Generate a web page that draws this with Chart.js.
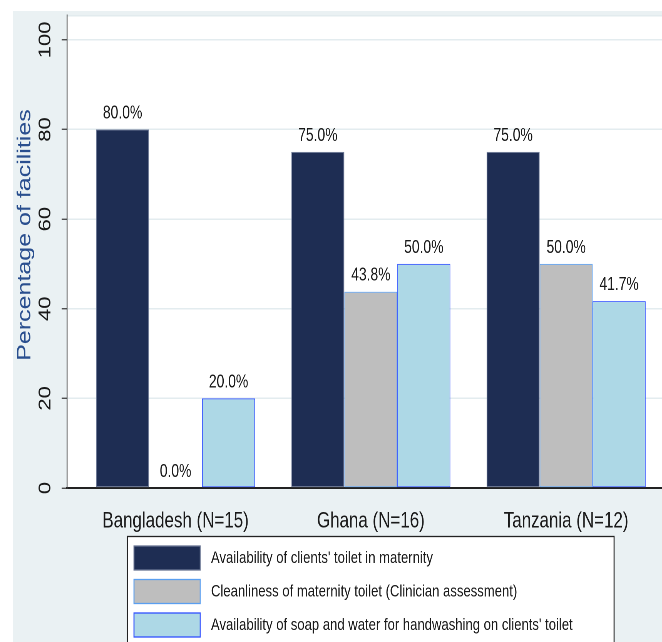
<!DOCTYPE html>
<html>
<head>
<meta charset="utf-8">
<script src="https://cdn.jsdelivr.net/npm/chart.js@4.4.1/dist/chart.umd.min.js"></script>
<style>
  html, body { margin: 0; padding: 0; background: #fff; overflow: hidden; }
  #wrap { width: 662px; height: 642px; overflow: hidden; }
  /* the original graph was squeezed sideways, so draw wide and squeeze the same way */
  #chart { transform: scaleX(0.77); transform-origin: 0 0; }
</style>
</head>
<body>
<div id="wrap"><canvas id="chart" width="860" height="642"></canvas></div>
<script>
const countries = ['Bangladesh (N=15)', 'Ghana (N=16)', 'Tanzania (N=12)'];
const seriesLabels = [
  "Availability of clients' toilet in maternity",
  'Cleanliness of maternity toilet (Clinician assessment)',
  "Availability of soap and water for handwashing on clients' toilet"
];
const toiletAvailable = [80.0, 75.0, 75.0];
const toiletClean = [0.0, 43.8, 50.0];
const soapAndWater = [20.0, 50.0, 41.7];
const yTicks = [0, 20, 40, 60, 80, 100];
const yTitle = 'Percentage of facilities';

const FONT = "'Liberation Sans', Arial, sans-serif";

// countries sit at x = 1, 2, 3 on a linear axis so the groups land where Stata put them
const points = vals => vals.map((v, i) => ({x: i + 1, y: v}));

const background = {
  id: 'background',
  beforeDraw(chart) {
    const {ctx, chartArea: a, width, height} = chart;
    ctx.save();
    ctx.fillStyle = '#ffffff';
    ctx.fillRect(0, 0, width, height);
    ctx.fillStyle = '#eaf1f3';
    ctx.fillRect(17, 11, width - 17, height - 11);
    ctx.fillStyle = '#ffffff';
    ctx.fillRect(a.left, a.top, a.right - a.left, a.bottom - a.top);
    ctx.strokeStyle = '#e2ebee';
    ctx.lineWidth = 1.5;
    ctx.beginPath();
    ctx.moveTo(a.left, a.top + 0.5);
    ctx.lineTo(a.right, a.top + 0.5);
    ctx.stroke();
    // y title sits a bit above the middle of the plot, as in the original
    ctx.translate(32.5, 235);
    ctx.rotate(-Math.PI / 2);
    ctx.font = '25px ' + FONT;
    ctx.fillStyle = '#2a4f8f';
    ctx.textAlign = 'center';
    ctx.textBaseline = 'middle';
    ctx.fillText(yTitle, 0, 0);
    ctx.restore();
  }
};

const valueLabels = {
  id: 'valueLabels',
  afterDatasetsDraw(chart) {
    const ctx = chart.ctx;
    ctx.save();
    ctx.font = '18px ' + FONT;
    ctx.fillStyle = '#1a1a1a';
    ctx.textAlign = 'center';
    ctx.textBaseline = 'middle';
    chart.data.datasets.forEach((ds, i) => {
      chart.getDatasetMeta(i).data.forEach((bar, j) => {
        ctx.fillText(ds.data[j].y.toFixed(1) + '%', bar.x, bar.y - 16);
      });
    });
    ctx.restore();
  }
};

// boxed legend under the plot, one row per series
const boxLegend = {
  id: 'boxLegend',
  afterDraw(chart) {
    const ctx = chart.ctx;
    ctx.save();
    ctx.fillStyle = '#ffffff';
    ctx.fillRect(165, 536, 632, 120);
    ctx.strokeStyle = '#222';
    ctx.lineWidth = 1.3;
    ctx.strokeRect(165.5, 536.5, 632, 120);
    ctx.font = '17px ' + FONT;
    ctx.textBaseline = 'middle';
    chart.data.datasets.forEach((ds, i) => {
      const y = 546 + i * 33.5;
      ctx.fillStyle = ds.backgroundColor;
      ctx.fillRect(174, y, 86, 24);
      ctx.strokeStyle = ds.borderColor;
      ctx.lineWidth = 1.3;
      ctx.strokeRect(174, y, 86, 24);
      ctx.fillStyle = '#1a1a1a';
      ctx.fillText(ds.label, 274, y + 12.5);
    });
    ctx.restore();
  }
};

new Chart(document.getElementById('chart'), {
  type: 'bar',
  data: {
    datasets: [
      {label: seriesLabels[0], data: points(toiletAvailable), backgroundColor: '#1e2d53', borderColor: '#6a7694', borderWidth: 1, borderSkipped: false},
      {label: seriesLabels[1], data: points(toiletClean), backgroundColor: '#bebebe', borderColor: '#5a9ff0', borderWidth: 1, borderSkipped: false},
      {label: seriesLabels[2], data: points(soapAndWater), backgroundColor: '#add8e6', borderColor: '#3050ff', borderWidth: 1, borderSkipped: false}
    ]
  },
  options: {
    responsive: false,
    devicePixelRatio: 2,
    animation: false,
    categoryPercentage: 0.814,
    barPercentage: 1,
    layout: {padding: {top: 11, left: 0, right: 0, bottom: 0}},
    plugins: {legend: {display: false}, tooltip: {enabled: false}},
    scales: {
      x: {
        type: 'linear',
        min: 0.444,
        max: 3.492,
        offset: false,
        grid: {display: false, offset: false},
        border: {color: '#222', width: 2},
        afterBuildTicks: s => { s.ticks = countries.map((c, i) => ({value: i + 1})); },
        ticks: {
          autoSkip: false, maxRotation: 0, padding: 12, color: '#1a1a1a',
          font: {family: FONT, size: 22},
          callback: v => countries[v - 1]
        },
        afterFit: s => { s.height = 154; }
      },
      y: {
        min: 0,
        max: 105.5,
        afterBuildTicks: s => { s.ticks = yTicks.map(v => ({value: v})); },
        grid: {color: '#e3ecef', lineWidth: 1.5, tickLength: 7, tickColor: '#333', tickWidth: 1.2},
        border: {color: '#444', width: 1.2},
        ticks: {
          minRotation: 90, maxRotation: 90, crossAlign: 'center', padding: 2,
          color: '#1a1a1a', font: {family: FONT, size: 22}
        },
        afterFit: s => { s.width = 87; }
      }
    }
  },
  plugins: [background, valueLabels, boxLegend]
});
</script>
</body>
</html>
